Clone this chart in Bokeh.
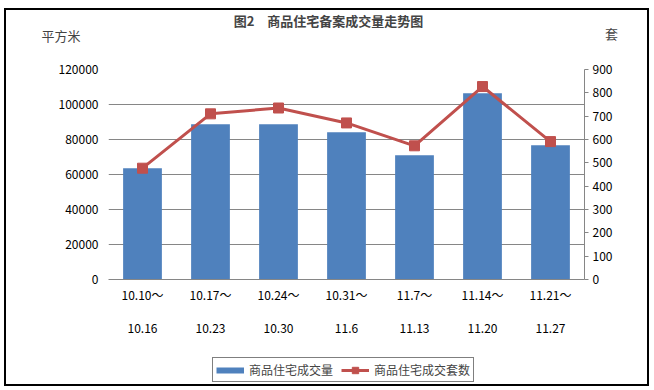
from bokeh.plotting import figure
from bokeh.layouts import column
from bokeh.models import (Range1d, LinearAxis, FixedTicker, Legend, LegendItem, Label,
                          BasicTickFormatter)
from bokeh.embed import file_html
from bokeh.resources import INLINE

# ---- data ----
week_start = ["10.10～", "10.17～", "10.24～", "10.31～", "11.7～", "11.14～", "11.21～"]
week_end = ["10.16", "10.23", "10.30", "11.6", "11.13", "11.20", "11.27"]
area_sqm = [63600, 88700, 88700, 84200, 71000, 106500, 76700]   # 商品住宅成交量 (平方米)
units_sold = [477, 710, 735, 671, 573, 827, 591]                  # 商品住宅成交套数 (套)
left_ticks = [0, 20000, 40000, 60000, 80000, 100000, 120000]
right_ticks = [0, 100, 200, 300, 400, 500, 600, 700, 800, 900]

title_text = "图2\u3000商品住宅备案成交量走势图"
left_unit = "平方米"
right_unit = "套"
bar_label = "商品住宅成交量"
line_label = "商品住宅成交套数"

FONT = "Noto Sans CJK SC"
GRID = "#868686"
BAR = "#4F81BD"
LINE = "#C0504D"

W = 641
TOP_H, MAIN_H, BOT_H = 45, 290, 39

xs = list(range(len(week_start)))

# ---------- header strip (title + units) ----------
top = figure(width=W, height=TOP_H, output_backend="svg", toolbar_location=None,
             x_range=Range1d(0, W), y_range=Range1d(0, TOP_H), min_border=0,
             x_axis_location=None, y_axis_location=None)
top.frame_align = False
top.outline_line_color = None
top.xgrid.visible = False
top.ygrid.visible = False
top.add_layout(Label(x=322, y=35, text=title_text, text_font=FONT, text_font_size="13px",
                     text_font_style="bold", text_align="center", text_baseline="middle"))
top.add_layout(Label(x=35, y=20, text=left_unit, text_font=FONT, text_font_size="13px",
                     text_align="left", text_baseline="middle"))
top.add_layout(Label(x=605, y=22, text=right_unit, text_font=FONT, text_font_size="13px",
                     text_align="center", text_baseline="middle"))

# ---------- main chart ----------
p = figure(width=W, height=MAIN_H, output_backend="svg", toolbar_location=None,
           x_range=Range1d(-0.5, len(xs) - 0.5), y_range=Range1d(0, 120000),
           min_border_left=102, min_border_right=63, min_border_top=14, min_border_bottom=66,
           x_axis_location=None, y_axis_location=None)
p.frame_align = False
p.outline_line_color = None
p.extra_y_ranges = {"units": Range1d(0, 900)}

yl = LinearAxis(ticker=FixedTicker(ticks=left_ticks),
                formatter=BasicTickFormatter(use_scientific=False))
yl.axis_line_color = None
yl.major_tick_line_color = None
yl.major_tick_out = 0
yl.minor_tick_line_color = None
yl.major_label_standoff = 10
yl.major_label_text_font = FONT
yl.major_label_text_font_size = "12px"
yl.major_label_text_color = "black"
p.add_layout(yl, "left")

yr = LinearAxis(y_range_name="units", ticker=FixedTicker(ticks=right_ticks))
yr.axis_line_color = GRID
yr.major_tick_line_color = GRID
yr.major_tick_in = 0
yr.major_tick_out = 4
yr.minor_tick_line_color = None
yr.major_label_standoff = 4
yr.major_label_text_font = FONT
yr.major_label_text_font_size = "12px"
yr.major_label_text_color = "black"
p.add_layout(yr, "right")

xa = LinearAxis(ticker=FixedTicker(ticks=xs),
                major_label_overrides={i: s for i, s in zip(xs, week_start)})
xa.axis_line_color = GRID
xa.major_tick_line_color = None
xa.major_tick_out = 0
xa.major_tick_in = 0
xa.minor_tick_line_color = None
xa.major_label_standoff = 6
xa.major_label_text_font = FONT
xa.major_label_text_font_size = "12px"
xa.major_label_text_color = "black"
p.add_layout(xa, "below")

xb = LinearAxis(ticker=FixedTicker(ticks=xs),
                major_label_overrides={i: s for i, s in zip(xs, week_end)})
xb.axis_line_color = None
xb.major_tick_line_color = None
xb.major_tick_out = 0
xb.major_tick_in = 0
xb.minor_tick_line_color = None
xb.major_label_standoff = 18
xb.major_label_text_font = FONT
xb.major_label_text_font_size = "12px"
xb.major_label_text_color = "black"
p.add_layout(xb, "below")

p.ygrid.ticker = FixedTicker(ticks=left_ticks)
p.ygrid.grid_line_color = GRID
p.xgrid.grid_line_color = None

p.vbar(x=xs, top=area_sqm, width=0.57, fill_color=BAR, line_color=None)
p.line(x=xs, y=units_sold, y_range_name="units", line_color=LINE, line_width=3)
p.scatter(x=xs, y=units_sold, y_range_name="units", marker="square", size=10,
          fill_color=LINE, line_color=LINE)

# ---------- legend strip ----------
bot = figure(width=W, height=BOT_H, output_backend="svg", toolbar_location=None,
             x_range=Range1d(0, 1), y_range=Range1d(0, 1), min_border=0,
             x_axis_location=None, y_axis_location=None)
bot.frame_align = False
bot.outline_line_color = None
bot.xgrid.visible = False
bot.ygrid.visible = False
# legend key proxies (one point each, outside the visible range of this strip)
bar_key = bot.line(x=[5, 6], y=[5, 5], line_color=BAR, line_width=6)
line_key = bot.line(x=[5, 6], y=[5, 5], line_color=LINE, line_width=3)
mark_key = bot.scatter(x=[5], y=[5], marker="square", size=8, fill_color=LINE, line_color=LINE)
legend = Legend(items=[LegendItem(label=bar_label, renderers=[bar_key]),
                       LegendItem(label=line_label, renderers=[line_key, mark_key])],
                orientation="horizontal", location=(206, 2))
legend.label_text_font = FONT
legend.label_text_font_size = "12px"
legend.glyph_width = 28
legend.glyph_height = 16
legend.padding = 3
legend.margin = 0
legend.spacing = 8
legend.label_standoff = 5
legend.border_line_color = "black"
legend.border_line_width = 1
bot.add_layout(legend, "center")

layout = column(top, p, bot, margin=(10, 0, 0, 6), styles={"outline": "2px solid black"})

open("out.html", "w").write(file_html(layout, INLINE))
